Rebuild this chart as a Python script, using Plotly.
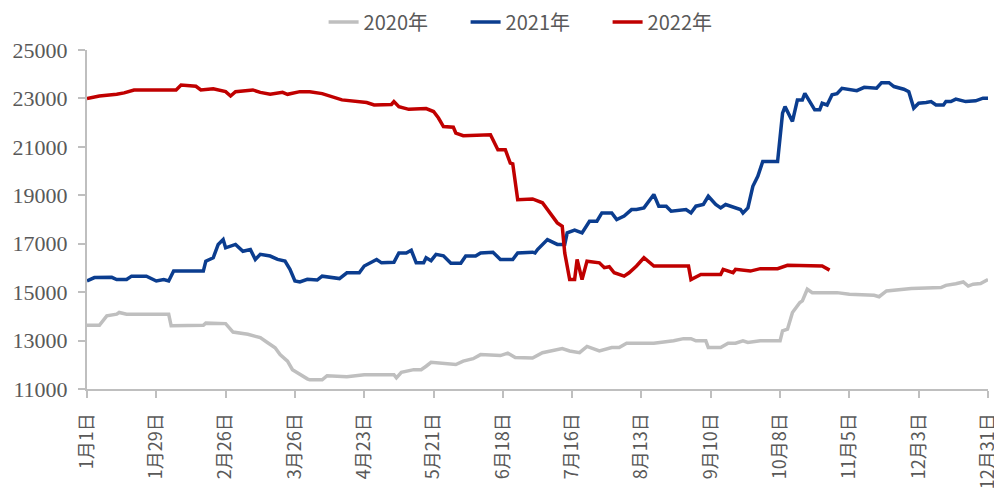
import plotly.graph_objects as go

# dias do ano (0 = 1月1日) e preços
dias_2020 = [0, 5, 8, 12, 13, 16, 33, 34, 47, 48, 56, 59, 65, 70, 73, 76, 78, 81, 83, 86,
             89, 90, 95, 97, 105, 112, 124, 125, 127, 132, 135, 137, 139, 149, 152, 156,
             159, 167, 170, 173, 180, 184, 190, 192, 195, 199, 202, 207, 212, 215, 218,
             229, 237, 241, 244, 246, 250, 251, 256, 259, 262, 265, 267, 272, 280, 281,
             283, 285, 288, 289, 291, 293, 303, 308, 318, 320, 323, 333, 345, 347, 351,
             354, 356, 358, 361, 364]
precos_2020 = [13630, 13630, 14020, 14090, 14160, 14090, 14090, 13610, 13630, 13720, 13700,
               13350, 13260, 13120, 12910, 12700, 12420, 12150, 11800, 11590, 11420, 11380,
               11380, 11550, 11510, 11590, 11590, 11460, 11690, 11800, 11800, 11940, 12100,
               12010, 12150, 12250, 12420, 12380, 12480, 12300, 12280, 12500, 12620, 12670,
               12570, 12500, 12760, 12570, 12710, 12710, 12890, 12890, 12990, 13080, 13080,
               12990, 12990, 12710, 12710, 12890, 12890, 12990, 12920, 12990, 12990, 13400,
               13470, 14160, 14570, 14640, 15120, 14980, 14980, 14910, 14870, 14810, 15050,
               15150, 15190, 15280, 15350, 15420, 15250, 15330, 15360, 15520]

dias_2021 = [0, 3, 10, 12, 16, 18, 24, 26, 28, 31, 33, 35, 47, 48, 51, 53, 55, 56, 60, 63,
             66, 68, 70, 74, 77, 80, 82, 84, 86, 89, 93, 95, 102, 105, 110, 112, 117, 119,
             124, 126, 129, 131, 133, 136, 137, 139, 141, 144, 147, 151, 153, 157, 159, 164,
             167, 172, 174, 180, 181, 182, 186, 190, 193, 194, 197, 200, 203, 206, 208, 212,
             214, 217, 220, 222, 225, 229, 231, 234, 236, 242, 244, 246, 249, 251, 254, 256,
             258, 264, 265, 267, 269, 271, 273, 279, 281, 282, 285, 287, 289, 290, 292, 294,
             296, 297, 299, 301, 303, 305, 311, 314, 319, 321, 324, 326, 330, 332, 334, 336,
             339, 341, 343, 346, 347, 349, 351, 355, 359, 362, 364]
precos_2021 = [15460, 15600, 15610, 15520, 15520, 15660, 15660, 15560, 15460, 15520, 15460,
               15870, 15870, 16280, 16420, 16970, 17170, 16830, 16970, 16690, 16760, 16350,
               16560, 16490, 16350, 16280, 15940, 15460, 15420, 15530, 15500, 15660, 15560,
               15800, 15800, 16080, 16350, 16210, 16230, 16620, 16620, 16730, 16210, 16210,
               16420, 16300, 16560, 16500, 16190, 16190, 16490, 16490, 16620, 16650, 16350,
               16350, 16620, 16650, 16620, 16760, 17170, 16970, 16970, 17450, 17560, 17450,
               17930, 17930, 18270, 18270, 18000, 18140, 18410, 18410, 18480, 19030, 18550,
               18550, 18340, 18410, 18270, 18550, 18620, 18960, 18620, 18480, 18620, 18410,
               18270, 18480, 19370, 19780, 20400, 20400, 22390, 22660, 22050, 22940, 22940,
               23210, 22870, 22530, 22530, 22800, 22730, 23150, 23200, 23420, 23320, 23460,
               23420, 23650, 23650, 23490, 23380, 23280, 22600, 22800, 22830, 22870, 22730,
               22730, 22870, 22870, 22970, 22870, 22900, 23010, 23010]

dias_2022 = [0, 5, 12, 15, 19, 36, 38, 44, 46, 51, 56, 58, 60, 67, 70, 74, 79, 81, 86, 90,
             95, 99, 103, 113, 116, 123, 124, 126, 130, 137, 140, 142, 144, 148, 149, 152,
             163, 166, 169, 171, 172, 174, 180, 184, 187, 190, 192, 193, 195, 197, 198, 200,
             202, 207, 209, 211, 213, 217, 219, 222, 225, 229, 243, 244, 248, 256, 257, 261,
             262, 268, 272, 279, 283, 297, 300]
precos_2022 = [23000, 23100, 23170, 23230, 23350, 23350, 23550, 23500, 23350, 23400, 23280,
               23100, 23280, 23350, 23250, 23170, 23250, 23170, 23280, 23280, 23200, 23070,
               22940, 22830, 22730, 22750, 22870, 22660, 22550, 22580, 22460, 22190, 21840,
               21810, 21570, 21460, 21500, 20880, 20880, 20330, 20300, 18820, 18850, 18690,
               18270, 17860, 17720, 16620, 15520, 15520, 16350, 15520, 16280, 16210, 16010,
               16050, 15800, 15660, 15800, 16080, 16420, 16080, 16080, 15520, 15730, 15730,
               15940, 15800, 15940, 15870, 15970, 15970, 16110, 16080, 15910]

# eixo x: a cada 28 dias
tick_dias = [0, 28, 56, 84, 112, 140, 168, 196, 224, 252, 280, 308, 336, 364]
tick_rotulos = ["1月1日", "1月29日", "2月26日", "3月26日", "4月23日", "5月21日", "6月18日",
                "7月16日", "8月13日", "9月10日", "10月8日", "11月5日", "12月3日", "12月31日"]
tick_precos = [11000, 13000, 15000, 17000, 19000, 21000, 23000, 25000]

series = [
    ("2020年", dias_2020, precos_2020, "#bfbfbf"),
    ("2021年", dias_2021, precos_2021, "#0b3d8f"),
    ("2022年", dias_2022, precos_2022, "#c00000"),
]

fig = go.Figure()
for nome, dias, precos, cor in series:
    fig.add_trace(
        go.Scatter(
            x=dias,
            y=precos,
            name=nome,
            mode="lines",
            line=dict(color=cor, width=3.5),
        )
    )

# a página tem 8px de margem no body, por isso as margens compensam
fig.update_layout(
    width=1002,
    height=500,
    margin=dict(l=79, r=22, t=42, b=119, autoexpand=False),
    plot_bgcolor="white",
    paper_bgcolor="white",
    font=dict(family="Noto Sans CJK SC", color="#595959"),
    showlegend=True,
    legend=dict(
        orientation="h",
        x=0.499,
        xanchor="center",
        y=0.972,
        yanchor="middle",
        yref="container",
        entrywidth=97,
        entrywidthmode="pixels",
        font=dict(size=20, color="#595959"),
    ),
    xaxis=dict(
        range=[0, 364],
        tickvals=tick_dias,
        ticktext=tick_rotulos,
        tickangle=-90,
        automargin=False,
        showgrid=False,
        zeroline=False,
        showline=True,
        linecolor="#bfbfbf",
        linewidth=2,
        ticks="outside",
        ticklen=7,
        tickcolor="#bfbfbf",
        tickwidth=1.5,
        ticklabelstandoff=8,
        tickfont=dict(family="Noto Sans CJK SC", size=18, color="#595959"),
    ),
    yaxis=dict(
        range=[11000, 25000],
        tickvals=tick_precos,
        ticktext=[str(v) for v in tick_precos],
        automargin=False,
        showgrid=False,
        zeroline=False,
        showline=True,
        linecolor="#bfbfbf",
        linewidth=2,
        ticks="outside",
        ticklen=7,
        tickcolor="#bfbfbf",
        tickwidth=1.5,
        ticklabelstandoff=6,
        tickfont=dict(family="Liberation Serif", size=22, color="#595959"),
    ),
)

fig.write_html("out.html")
